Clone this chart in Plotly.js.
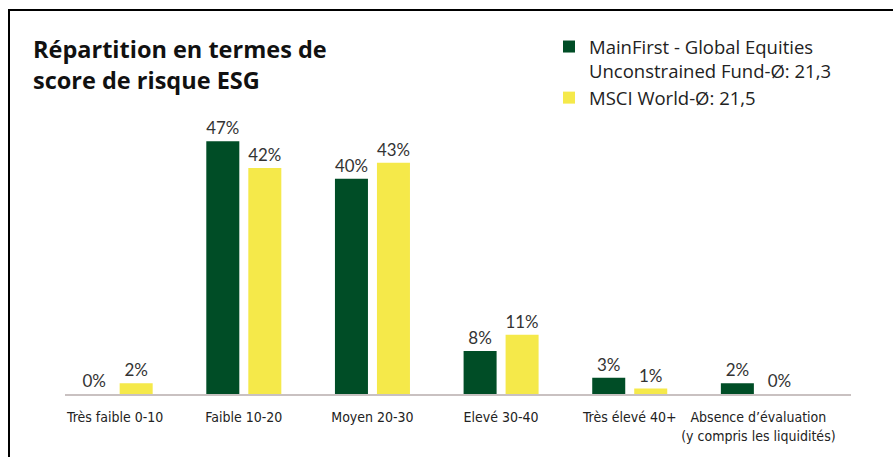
<!DOCTYPE html>
<html>
<head>
<meta charset="utf-8">
<script src="https://cdn.plot.ly/plotly-3.0.1.min.js"></script>
<style>html,body{margin:0;padding:0;background:#fff;}#chart{width:893px;height:457px;}</style>
</head>
<body>
<div id="chart"></div>
<script>
var categories = ["Très faible 0-10", "Faible 10-20", "Moyen 20-30", "Elevé 30-40", "Très élevé 40+", "Absence d’évaluation<br>(y compris les liquidités)"];
var fundValues = [0, 47, 40, 8, 3, 2];
var msciValues = [2, 42, 43, 11, 1, 0];
var fundName = "MainFirst - Global Equities<br>Unconstrained Fund-Ø: 21,3";
var msciName = "MSCI World-Ø: 21,5";
var titleText = "<b>Répartition en termes de<br>score de risque ESG</b>";

var valueFont = {family: "Lato, 'Open Sans', sans-serif", size: 17, color: "#333333"};

var traces = [
  {type: "bar", name: fundName, x: categories, y: fundValues,
   marker: {color: "#004d26"}, texttemplate: "%{y}%", textposition: "outside",
   textfont: valueFont, cliponaxis: false, hoverinfo: "skip"},
  {type: "bar", name: msciName, x: categories, y: msciValues,
   marker: {color: "#f5e94a"}, texttemplate: "%{y}%", textposition: "outside",
   textfont: valueFont, cliponaxis: false, hoverinfo: "skip"}
];

var L = 65, R = 42, T = 125, B = 63, W = 893, H = 457;
var pw = W - L - R, ph = H - T - B;
function px(x) { return (x - L) / pw; }
function py(y) { return (H - B - y) / ph; }

var layout = {
  width: W, height: H,
  margin: {l: L, r: R, t: T, b: B, pad: 0},
  paper_bgcolor: "#ffffff", plot_bgcolor: "#ffffff",
  barmode: "group", bargap: 0.347, bargroupgap: 0.214,
  title: {text: titleText, x: 33 / W, xref: "container", xanchor: "left",
          y: 1 - 58 / H, yref: "container", yanchor: "top",
          font: {family: "'Open Sans', Lato, sans-serif", size: 23.5, color: "#111111"}},
  xaxis: {type: "category", range: [-0.39, 5.72], showline: true, linecolor: "#c9c1c1", linewidth: 1.5,
          ticks: "outside", ticklen: 10, tickcolor: "rgba(0,0,0,0)", showgrid: false, zeroline: false,
          tickfont: {family: "'Liberation Sans Narrow', 'DejaVu Sans Condensed', sans-serif", size: 14, color: "#222222"}},
  yaxis: {range: [0, 50], visible: false, showgrid: false, zeroline: false},
  showlegend: true,
  legend: {x: px(549), xanchor: "left", y: py(28), yanchor: "top", valign: "top",
           bgcolor: "rgba(0,0,0,0)", tracegroupgap: 0,
           font: {family: "'Open Sans', Lato, sans-serif", size: 18.5, color: "#222222"}},
  shapes: [
    {type: "line", xref: "paper", yref: "paper", x0: px(9), x1: px(9), y0: py(9), y1: py(470), line: {color: "#000", width: 2}},
    {type: "line", xref: "paper", yref: "paper", x0: px(8), x1: px(900), y0: py(10), y1: py(10), line: {color: "#000", width: 2}}
  ]
};

Plotly.newPlot("chart", traces, layout, {staticPlot: true, displayModeBar: false});
</script>
</body>
</html>
